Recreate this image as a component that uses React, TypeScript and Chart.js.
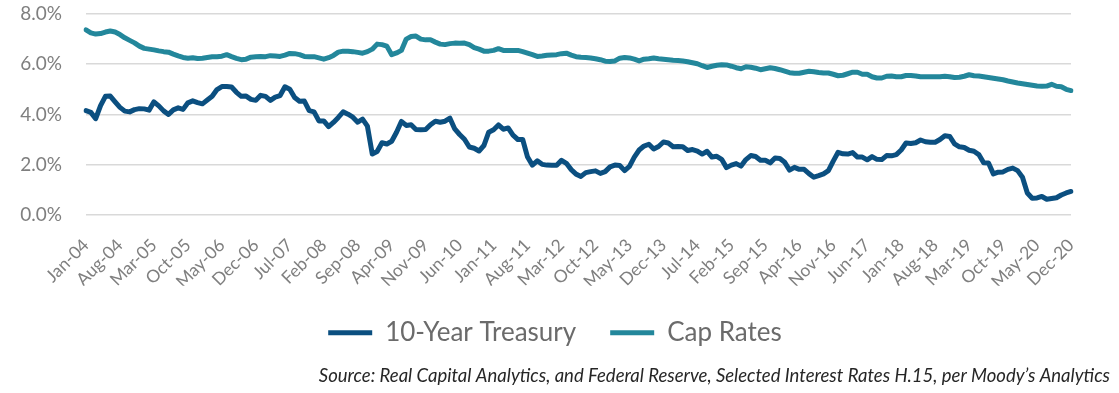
import React, { useEffect, useRef } from "react";
import { Chart, registerables } from "chart.js";

Chart.register(...registerables);

const MONTHS = ["Jan", "Feb", "Mar", "Apr", "May", "Jun", "Jul", "Aug", "Sep", "Oct", "Nov", "Dec"];
const YEARS = ["04", "05", "06", "07", "08", "09", "10", "11", "12", "13", "14", "15", "16", "17", "18", "19", "20"];
const categories = YEARS.flatMap((y) => MONTHS.map((m) => `${m}-${y}`));
const LABEL_EVERY = 7;

const treasury = [
  4.15, 4.08, 3.83, 4.35, 4.72, 4.73, 4.5, 4.28, 4.13, 4.1, 4.19, 4.23,
  4.22, 4.17, 4.5, 4.34, 4.14, 4.0, 4.18, 4.26, 4.2, 4.46, 4.54, 4.47,
  4.42, 4.57, 4.72, 4.99, 5.11, 5.11, 5.09, 4.88, 4.72, 4.73, 4.6, 4.56,
  4.76, 4.72, 4.56, 4.69, 4.75, 5.1, 5.0, 4.67, 4.52, 4.53, 4.15, 4.1,
  3.74, 3.74, 3.51, 3.68, 3.88, 4.1, 4.01, 3.89, 3.69, 3.81, 3.53, 2.42,
  2.52, 2.87, 2.82, 2.93, 3.29, 3.72, 3.56, 3.59, 3.4, 3.39, 3.4, 3.59,
  3.73, 3.69, 3.73, 3.85, 3.42, 3.2, 3.01, 2.7, 2.65, 2.54, 2.76, 3.29,
  3.39, 3.58, 3.41, 3.46, 3.17, 3.0, 3.0, 2.3, 1.98, 2.15, 2.01, 1.98,
  1.97, 1.97, 2.17, 2.05, 1.8, 1.62, 1.53, 1.68, 1.72, 1.75, 1.65, 1.72,
  1.91, 1.98, 1.96, 1.76, 1.93, 2.3, 2.58, 2.74, 2.81, 2.62, 2.72, 2.9,
  2.86, 2.71, 2.72, 2.71, 2.56, 2.6, 2.54, 2.42, 2.53, 2.3, 2.33, 2.21,
  1.88, 1.98, 2.04, 1.94, 2.2, 2.36, 2.32, 2.17, 2.17, 2.07, 2.26, 2.24,
  2.09, 1.78, 1.89, 1.81, 1.81, 1.64, 1.5, 1.56, 1.63, 1.76, 2.14, 2.49,
  2.43, 2.42, 2.48, 2.3, 2.3, 2.19, 2.32, 2.21, 2.2, 2.36, 2.35, 2.4,
  2.58, 2.86, 2.84, 2.87, 2.98, 2.91, 2.89, 2.89, 3.0, 3.15, 3.12, 2.83,
  2.71, 2.68, 2.57, 2.53, 2.4, 2.07, 2.06, 1.63, 1.7, 1.71, 1.81, 1.86,
  1.76, 1.5, 0.87, 0.66, 0.67, 0.73, 0.62, 0.65, 0.68, 0.79, 0.87, 0.93,
];

const capRates = [
  7.37, 7.25, 7.2, 7.22, 7.28, 7.32, 7.28, 7.18, 7.05, 6.95, 6.85, 6.72,
  6.63, 6.6, 6.57, 6.53, 6.5, 6.48, 6.4, 6.33, 6.27, 6.24, 6.26, 6.23,
  6.24, 6.27, 6.3, 6.3, 6.32, 6.38, 6.3, 6.23, 6.18, 6.2, 6.28, 6.3,
  6.31, 6.3, 6.34, 6.33, 6.31, 6.36, 6.43, 6.42, 6.38, 6.31, 6.3, 6.3,
  6.25, 6.2, 6.26, 6.35, 6.48, 6.52, 6.52, 6.5, 6.47, 6.44, 6.5, 6.6,
  6.8, 6.78, 6.72, 6.38, 6.45, 6.55, 7.0, 7.1, 7.12, 7.0, 6.97, 6.97,
  6.88, 6.8, 6.78, 6.82, 6.84, 6.83, 6.84, 6.78, 6.66, 6.6, 6.52, 6.52,
  6.55, 6.62, 6.55, 6.55, 6.55, 6.55, 6.5, 6.44, 6.38, 6.31, 6.33, 6.36,
  6.37, 6.38, 6.42, 6.44, 6.36, 6.3, 6.28, 6.27, 6.25, 6.22, 6.18, 6.12,
  6.11, 6.13, 6.24, 6.27, 6.25, 6.2, 6.13, 6.2, 6.22, 6.25, 6.22, 6.2,
  6.18, 6.16, 6.15, 6.13, 6.1, 6.06, 6.02, 5.94, 5.87, 5.92, 5.96, 5.98,
  5.97, 5.92, 5.86, 5.82, 5.9, 5.88, 5.84, 5.78, 5.82, 5.86, 5.83, 5.78,
  5.72, 5.66, 5.64, 5.64, 5.68, 5.72, 5.7, 5.67, 5.65, 5.65, 5.6, 5.54,
  5.56, 5.62, 5.68, 5.68, 5.6, 5.6, 5.5, 5.45, 5.45, 5.52, 5.53, 5.5,
  5.5, 5.55, 5.55, 5.53, 5.5, 5.5, 5.5, 5.5, 5.5, 5.52, 5.5, 5.47,
  5.48, 5.52, 5.58, 5.54, 5.53, 5.5, 5.47, 5.44, 5.41, 5.38, 5.33, 5.29,
  5.25, 5.22, 5.19, 5.16, 5.13, 5.12, 5.13, 5.2, 5.12, 5.1, 5.0, 4.95,
];

const Y_MIN = 0;
const Y_MAX = 8;
const Y_STEP = 2;

const SOURCE_TEXT =
  "Source: Real Capital Analytics, and Federal Reserve, Selected Interest Rates H.15, per Moody\u2019s Analytics";

const FONT = "Lato, 'Open Sans', 'DejaVu Sans', sans-serif";

export default function App() {
  const ref = useRef<HTMLCanvasElement>(null);

  useEffect(() => {
    const canvas = ref.current;
    if (!canvas) return;
    const chart = new Chart(canvas, {
      type: "line",
      data: {
        labels: categories,
        datasets: [
          {
            label: "10-Year Treasury",
            data: treasury,
            borderColor: "#0B4F80",
            backgroundColor: "#0B4F80",
            borderWidth: 5,
            pointRadius: 0,
            tension: 0,
            borderCapStyle: "round",
            borderJoinStyle: "round",
          },
          {
            label: "Cap Rates",
            data: capRates,
            borderColor: "#23879B",
            backgroundColor: "#23879B",
            borderWidth: 5,
            pointRadius: 0,
            tension: 0,
            borderCapStyle: "round",
            borderJoinStyle: "round",
          },
        ],
      },
      options: {
        animation: false,
        responsive: false,
        maintainAspectRatio: false,
        layout: { padding: { left: 0, right: 9, top: 0, bottom: 6 } },
        scales: {
          x: {
            offset: false,
            grid: { display: false, drawTicks: false },
            border: { display: false },
            ticks: {
              autoSkip: false,
              minRotation: 45,
              maxRotation: 45,
              padding: 20,
              color: "#7f7f7f",
              font: { family: FONT, size: 17.5 },
              callback: (_v: any, i: number) => (i % LABEL_EVERY === 0 ? categories[i] : null),
            },
            afterFit: (s: any) => {
              s.height = 71;
            },
          },
          y: {
            min: Y_MIN,
            max: Y_MAX,
            grid: { color: "#d9d9d9", lineWidth: 1.5, drawTicks: false },
            border: { display: false },
            ticks: {
              stepSize: Y_STEP,
              padding: 24,
              color: "#7f7f7f",
              font: { family: FONT, size: 19 },
              callback: (v: any) => Number(v).toFixed(1) + "%",
            },
            afterFit: (s: any) => {
              s.width = 86;
              s.paddingTop = 14;
              s.paddingBottom = 12;
            },
          },
          yRight: {
            position: "right",
            display: true,
            grid: { display: false, drawTicks: false },
            border: { display: false },
            ticks: { display: false, padding: 0 },
            afterFit: (s: any) => {
              s.width = 39;
              s.paddingTop = 0;
              s.paddingBottom = 0;
            },
          },
        },
        plugins: {
          legend: {
            position: "bottom",
            labels: {
              usePointStyle: true,
              pointStyle: "line",
              pointStyleWidth: 44,
              padding: 34,
              color: "#6b6b6b",
              font: { family: FONT, size: 26 },
            },
          },
          subtitle: {
            display: true,
            text: SOURCE_TEXT,
            position: "bottom",
            align: "end",
            color: "#262626",
            font: { family: FONT, size: 18.5, style: "italic" },
            padding: { top: 9, bottom: 0 },
          },
          tooltip: { enabled: false },
          title: { display: false },
        },
      },
    });
    return () => chart.destroy();
  }, []);

  return (
    <div style={{ position: "fixed", left: 0, top: 0, width: 1119, height: 393, background: "#fff" }}>
      <canvas ref={ref} width={1119} height={393} style={{ display: "block" }} />
    </div>
  );
}
